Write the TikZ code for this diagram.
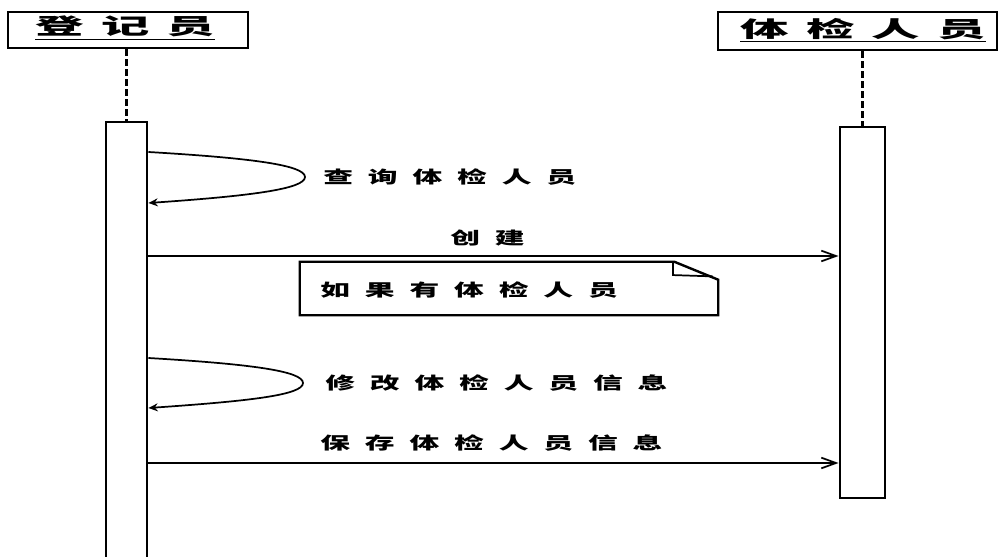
\documentclass[tikz,border=0pt]{standalone}
\usepackage{fontspec}
\usepackage{graphicx}
\usetikzlibrary{arrows.meta}
\newfontfamily\bodyf{Noto Sans CJK SC}[LetterSpace=50]
\newfontfamily\headf{Noto Sans CJK SC}[LetterSpace=36]
\newcommand\bodytxt[1]{\scalebox{1.75}[1]{\fontsize{12.75}{14}\selectfont\bodyf\bfseries #1}}
\newcommand\headtxt[1]{\underline{\scalebox{2.2}[1]{\fontsize{16.5}{18}\selectfont\headf\bfseries #1}}}
\begin{document}
\begin{tikzpicture}[x=0.75pt,y=-0.75pt,
  hbox/.style={draw,line width=2pt,inner sep=0pt},
  act/.style={draw,line width=2.2pt,inner sep=0pt,fill=white},
  life/.style={line width=2.2pt,dash pattern=on 5pt off 2.5pt},
  msg/.style={line width=1.3pt},
  selfarr/.style={msg,-{Stealth[length=7pt,width=6pt]}},
  callarr/.style={msg,-{Straight Barb[length=11pt,width=8pt]}},
  lbl/.style={inner sep=0pt,anchor=west},
  notebox/.style={inner sep=0pt}]
\useasboundingbox[fill=white] (0,0) rectangle (1000,557);
% headers
\node[hbox,minimum width=180pt,minimum height=27pt] (lh) at (128,30) {};
\node[lbl] (lht) at (35,28) {\headtxt{登记员}};
\node[hbox,minimum width=209.25pt,minimum height=28.5pt] (rh) at (857.5,31) {};
\node[lbl] (rht) at (740,30) {\headtxt{体检人员}};
% activations
\node[act,minimum width=30.75pt,minimum height=336pt] (la) at (126.5,346) {};
\node[act,minimum width=33.75pt,minimum height=278.25pt] (ra) at (862.5,312.5) {};
% lifelines
\draw[life] (la.north |- lh.south) -- (la.north);
\draw[life] (ra.north |- rh.south) -- (ra.north);
% self message 1
\coordinate (s1a) at (la.east |- 0,152);
\coordinate (s1b) at (la.east |- 0,203);
\draw[selfarr] (s1a) .. controls (250,158) and (305,165) .. (305,177)
  .. controls (305,189) and (250,196) .. (s1b);
\node[lbl] (l1) at (323,177) {\bodytxt{查询体检人员}};
% create
\coordinate (c1a) at (la.east |- 0,256);
\coordinate (c1b) at (ra.west |- 0,256);
\draw[callarr] (c1a) -- (c1b);
\node[lbl] (l2) at (450,238) {\bodytxt{创建}};
% note
\node[notebox,minimum width=313.5pt,minimum height=39.75pt] (nt) at (509,288.5) {};
\draw[line width=1.8pt] (nt.south west) -- (nt.north west) -- ([xshift=-33pt]nt.north east)
  -- ([yshift=-13.5pt]nt.north east) -- (nt.south east) -- cycle;
\draw[line width=1.3pt] ([xshift=-34pt]nt.north east) -- ([xshift=-34pt,yshift=-10pt]nt.north east)
  -- ([xshift=-4pt,yshift=-11pt]nt.north east);
\node[lbl] (l3) at (320,290) {\bodytxt{如果有体检人员}};
% self message 2
\coordinate (s2a) at (la.east |- 0,358);
\coordinate (s2b) at (la.east |- 0,408);
\draw[selfarr] (s2a) .. controls (250,364) and (303,371) .. (303,383)
  .. controls (303,395) and (250,401) .. (s2b);
\node[lbl] (l4) at (325,383) {\bodytxt{修改体检人员信息}};
% save
\coordinate (c2a) at (la.east |- 0,463);
\coordinate (c2b) at (ra.west |- 0,463);
\draw[callarr] (c2a) -- (c2b);
\node[lbl] (l5) at (320,443) {\bodytxt{保存体检人员信息}};
\end{tikzpicture}
\end{document}
